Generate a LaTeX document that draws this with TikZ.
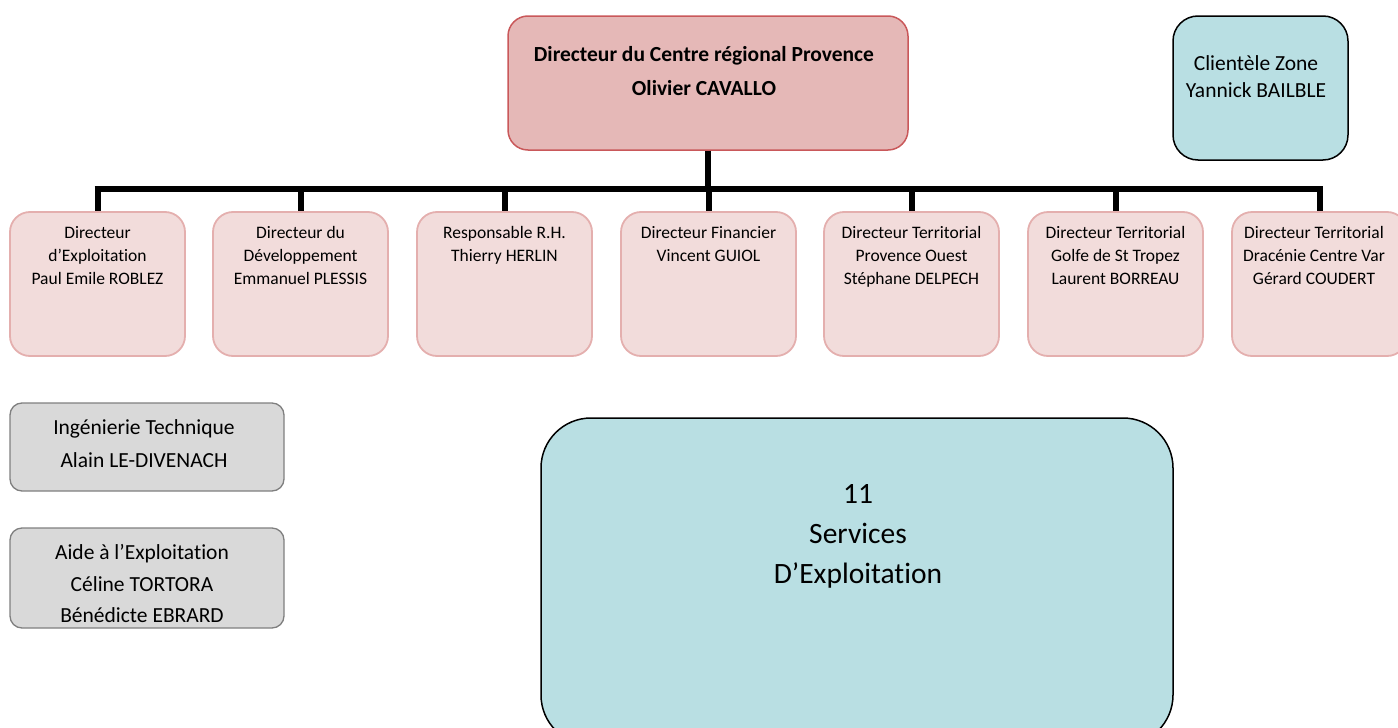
\documentclass[tikz,border=0pt]{standalone}
\usepackage{fontspec}
\setmainfont{Carlito}[Ligatures=NoCommon]
\definecolor{topfill}{HTML}{E5B8B7}
\definecolor{topdraw}{HTML}{C9585A}
\definecolor{subfill}{HTML}{F2DCDB}
\definecolor{subdraw}{HTML}{E4AFAE}
\definecolor{bluefill}{HTML}{B9DFE3}
\definecolor{greyfill}{HTML}{D9D9D9}
\definecolor{greydraw}{HTML}{7F7F7F}
\begin{document}
\begin{tikzpicture}[x=1pt,y=-1pt,
  box/.style={rectangle,inner sep=0pt,minimum width=#1},
  topbox/.style={box=400pt,minimum height=134pt,fill=topfill,draw=topdraw,line width=1.5pt,rounded corners=20pt},
  subbox/.style={box=175pt,minimum height=144pt,fill=subfill,draw=subdraw,line width=1.8pt,rounded corners=20pt},
  greybox/.style={box=274pt,fill=greyfill,draw=greydraw,line width=1.3pt,rounded corners=12pt},
  bluebox/.style={fill=bluefill,draw=black,line width=1.5pt},
  subtxt/.style={anchor=north,align=center,font=\fontsize{17.5}{23}\selectfont,inner sep=0pt},
  greytxt/.style={align=center,inner sep=0pt},
  link/.style={line width=6pt}]
\useasboundingbox (0,0) rectangle (1398,728);
% top
\node[topbox] (top) at (708,83) {};
\node[align=center,inner sep=0pt,font=\fontsize{21.5}{34}\selectfont\bfseries] (toptxt) at (704,71) {Directeur du Centre régional Provence\\Olivier CAVALLO};
% clientele
\node[bluebox,box=175pt,minimum height=144pt,rounded corners=25pt] (cli) at (1260.5,88) {};
\node[align=center,inner sep=0pt,font=\fontsize{21.5}{27}\selectfont] (clitxt) at (1256,76.5) {Clientèle Zone\\Yannick BAILBLE};
% subordinates
\node[subbox] (d1) at (97.5,284) {};
\node[subbox] (d2) at (300.5,284) {};
\node[subbox] (d3) at (504.5,284) {};
\node[subbox] (d4) at (708.5,284) {};
\node[subbox] (d5) at (911.5,284) {};
\node[subbox] (d6) at (1115.5,284) {};
\node[subbox] (d7) at (1319.5,284) {};
\node[subtxt] (t1) at (97.5,226) {Directeur\\d’Exploitation\\Paul Emile ROBLEZ};
\node[subtxt] (t2) at (300.5,226) {Directeur du\\Développement\\Emmanuel PLESSIS};
\node[subtxt] (t3) at (504.5,226) {Responsable R.H.\\Thierry HERLIN};
\node[subtxt] (t4) at (708.5,226) {Directeur Financier\\Vincent GUIOL};
\node[subtxt] (t5) at (911.5,226) {Directeur Territorial\\Provence Ouest\\Stéphane DELPECH};
\node[subtxt] (t6) at (1115.5,226) {Directeur Territorial\\Golfe de St Tropez\\Laurent BORREAU};
\node[subtxt] (t7) at (1314,226) {Directeur Territorial\\Dracénie Centre Var\\Gérard COUDERT};
% connectors
\coordinate (bar) at (708,189);
\draw[link] (top.south) -- (top.south |- bar);
\draw[link] ([xshift=-3pt]d1.north |- bar) -- ([xshift=3pt]d7.north |- bar);
\foreach \k in {1,...,7}{\draw[link] (d\k.north |- bar) -- (d\k.north);}
% grey boxes
\node[greybox,minimum height=88pt] (g1) at (147,447) {};
\node[greytxt,font=\fontsize{21.5}{33}\selectfont] (g1t) at (144,443.5) {Ingénierie Technique\\Alain LE-DIVENACH};
\node[greybox,minimum height=100pt] (g2) at (147,578) {};
\node[greytxt,font=\fontsize{21.5}{31.5}\selectfont] (g2t) at (142,583.5) {Aide à l’Exploitation\\Céline TORTORA\\Bénédicte EBRARD};
% big box
\node[bluebox,box=632pt,minimum height=327pt,rounded corners=50pt] (svc) at (857,581.5) {};
\node[align=center,inner sep=0pt,font=\fontsize{29.5}{40}\selectfont] (svct) at (858,536) {11\\Services\\D’Exploitation};
\end{tikzpicture}
\end{document}
